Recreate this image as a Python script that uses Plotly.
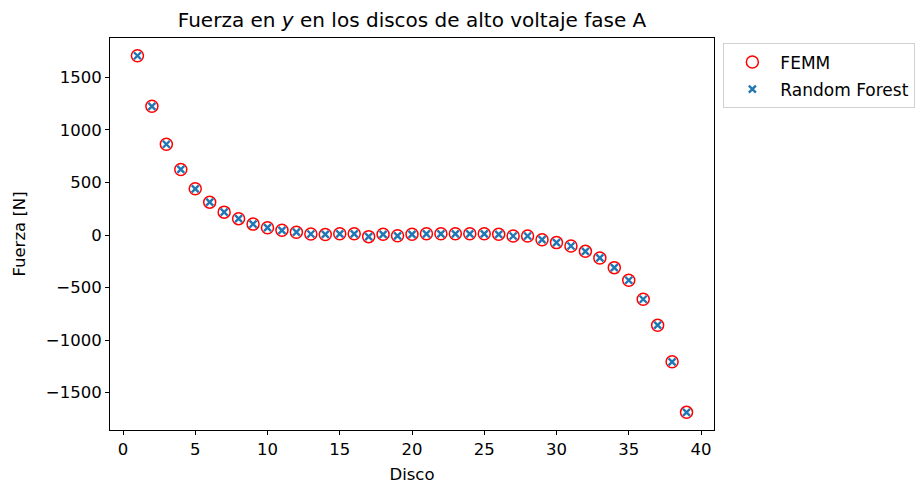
import plotly.graph_objects as go

disco = list(range(1, 40))
femm = [1706, 1225, 864, 624, 440, 313, 218, 156, 104, 70, 45, 27, 10, 6, 12, 12,
        -15, 7, -7, 7, 12, 12, 12, 12, 12, 7, -9, -9, -44, -72, -104, -155, -218,
        -310, -430, -611, -858, -1206, -1687]
rf = [1706, 1225, 864, 624, 440, 313, 218, 156, 104, 70, 45, 27, 10, 6, 12, 12,
      -15, 7, -7, 7, 12, 12, 12, 12, 12, 7, -9, -9, -44, -72, -104, -155, -218,
      -310, -430, -611, -858, -1206, -1687]

font = "DejaVu Sans"
fs = 16.5
fig = go.Figure()
fig.add_trace(go.Scatter(
    x=disco, y=femm, mode="markers", name="FEMM", legendgroup="a",
    marker=dict(symbol="circle-open", size=12, color="red", line=dict(width=1.5, color="red")),
))
fig.add_trace(go.Scatter(
    x=disco, y=rf, mode="markers", name="Random Forest", legendgroup="b",
    marker=dict(symbol="x-thin", size=7, color="#1f77b4", line=dict(width=2.4, color="#1f77b4")),
))

axis_common = dict(
    showgrid=False, zeroline=False, showline=True, linecolor="black", linewidth=1,
    mirror=True, ticks="outside", ticklen=4, tickcolor="black", tickwidth=1,
    tickfont=dict(family=font, size=fs, color="black"),
)
fig.update_layout(
    width=921, height=484,
    margin=dict(l=110, r=207, t=38, b=54, autoexpand=False),
    paper_bgcolor="white", plot_bgcolor="white",
    font=dict(family=font, size=fs, color="black"),
    title=dict(text="Fuerza en <i>y</i> en los discos de alto voltaje fase A",
               x=(110 + 714) / 2 / 921, xanchor="center", y=1 - 20 / 484, yanchor="middle",
               font=dict(family=font, size=20, color="black")),
    xaxis=dict(axis_common, range=[-0.9, 40.9], tickvals=[0, 5, 10, 15, 20, 25, 30, 35, 40],
               title=dict(text="Disco", font=dict(family=font, size=fs), standoff=12)),
    yaxis=dict(axis_common, range=[-1855, 1875],
               tickvals=[-1500, -1000, -500, 0, 500, 1000, 1500],
               title=dict(text="Fuerza [N]", font=dict(family=font, size=fs), standoff=16)),
    legend=dict(x=1.0155, xanchor="left", y=0.986, yanchor="top",
                bordercolor="#d0d0d0", borderwidth=1, bgcolor="white",
                font=dict(family=font, size=17), traceorder="grouped", tracegroupgap=2,
                itemwidth=46),
    showlegend=True,
)
fig.write_html("out.html")
